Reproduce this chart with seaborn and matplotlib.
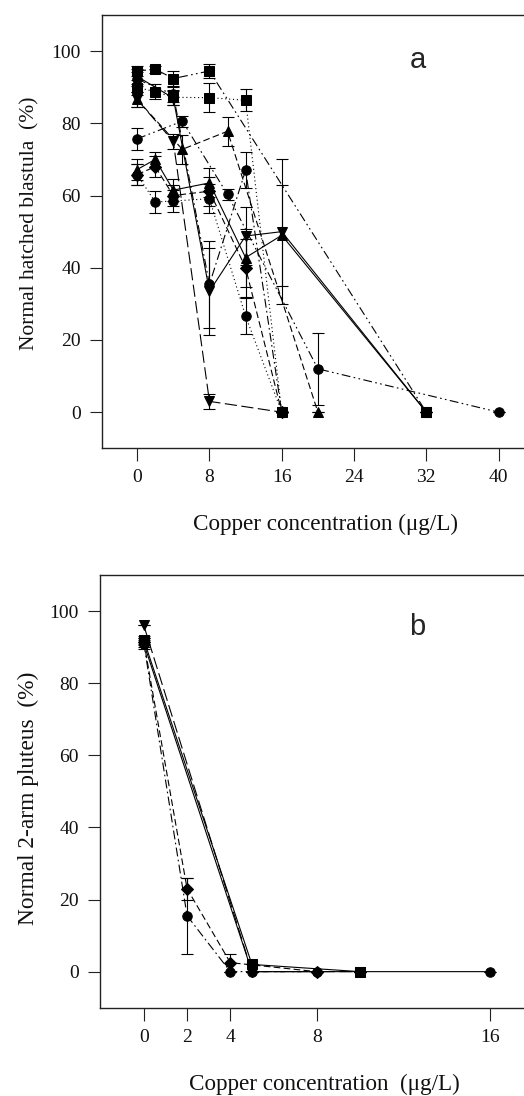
import numpy as np
import pandas as pd
import seaborn as sns
import matplotlib
matplotlib.use("Agg")
import matplotlib.pyplot as plt

# ---- panel a: normal hatched blastula (%) ----
a_x1 = [0, 5, 10, 20, 40]
a_y1 = [75.7, 80.6, 60.3, 12.0, 0]
a_e1 = [3.0, 1.5, 1.5, 10.0, 0]

a_x2 = [0, 5, 10, 20]
a_y2 = [86.6, 72.8, 77.8, 0]
a_e2 = [2.0, 4.0, 4.0, 0]

a_x3 = [0, 2, 4, 8, 12, 16]
a_y3 = [89.9, 88.8, 87.2, 87.1, 86.4, 0]
a_e3 = [2.0, 2.0, 2.0, 4.0, 3.0, 0]

a_x4 = [0, 2, 4, 8, 32]
a_y4 = [94.5, 95.0, 92.4, 94.5, 0]
a_e4 = [1.5, 1.0, 2.0, 2.0, 0]

a_x5 = [0, 4, 8, 16]
a_y5 = [86.6, 75.0, 3.0, 0]
a_e5 = [2.0, 2.0, 2.0, 0]

a_x6 = [0, 4, 8, 12, 16, 32]
a_y6 = [93.0, 87.0, 33.5, 48.8, 50.0, 0]
a_e6 = [2.0, 2.0, 12.0, 8.0, 20.0, 0]

a_x7 = [0, 2, 4, 8, 12, 16, 32]
a_y7 = [67.2, 70.0, 61.5, 63.5, 42.8, 49.0, 0]
a_e7 = [3.0, 2.0, 3.0, 4.0, 8.0, 14.0, 0]

a_x8 = [0, 2, 4, 8, 12, 16]
a_y8 = [65.8, 68.0, 60.0, 61.2, 40.0, 0]
a_e8 = [3.0, 3.0, 3.0, 4.0, 8.0, 0]

a_x9 = [0, 2, 4, 8, 12, 16]
a_y9 = [65.8, 58.2, 58.5, 59.1, 26.6, 0]
a_e9 = [3.0, 3.0, 3.0, 4.0, 5.0, 0]

a_x10 = [0, 4, 8, 12, 16]
a_y10 = [92.2, 88.0, 35.4, 67.0, 0]
a_e10 = [2.0, 2.0, 12.0, 5.0, 0]

# ---- panel b: normal 2-arm pluteus (%) ----
b_x1 = [0, 2, 4, 8]
b_y1 = [91.0, 15.5, 0, 0]
b_e1 = [1.5, 10.5, 0, 0]

b_x2 = [0, 2, 4, 8]
b_y2 = [91.5, 23.0, 2.5, 0]
b_e2 = [1.0, 3.0, 2.5, 0]

b_x3 = [0, 5, 10]
b_y3 = [96.0, 0, 0]
b_e3 = [0, 0, 0]

b_x4 = [0, 5, 10]
b_y4 = [92.0, 2.0, 0]
b_e4 = [1.0, 0, 0]

b_x5 = [0, 5, 10, 16]
b_y5 = [91.0, 0, 0, 0]
b_e5 = [1.0, 0, 0, 0]

a_ticks = [0, 8, 16, 24, 32, 40]
b_ticks = [0, 2, 4, 8, 16]
y_ticks = [0, 20, 40, 60, 80, 100]

DOT = (0, (1, 2.5))
DASH = (0, (6, 3))
LDASH = (0, (11, 4))
DASHDOT = (0, (8, 3, 1.5, 3))
DASHDOTDOT = (0, (8, 3, 1.5, 3, 1.5, 3))
SOLID = "-"

a_series = [
    (a_x1, a_y1, a_e1, "o", DASHDOTDOT),
    (a_x2, a_y2, a_e2, "^", DASH),
    (a_x3, a_y3, a_e3, "s", DOT),
    (a_x4, a_y4, a_e4, "s", DASHDOTDOT),
    (a_x5, a_y5, a_e5, "v", LDASH),
    (a_x6, a_y6, a_e6, "v", SOLID),
    (a_x7, a_y7, a_e7, "^", SOLID),
    (a_x8, a_y8, a_e8, "D", DASH),
    (a_x9, a_y9, a_e9, "o", DOT),
    (a_x10, a_y10, a_e10, "o", DASHDOT),
]
b_series = [
    (b_x1, b_y1, b_e1, "o", DASHDOT),
    (b_x2, b_y2, b_e2, "D", DASH),
    (b_x3, b_y3, b_e3, "v", LDASH),
    (b_x4, b_y4, b_e4, "s", SOLID),
    (b_x5, b_y5, b_e5, "o", SOLID),
]

sns.set_style("ticks")
plt.rcParams["font.family"] = ["Liberation Serif", "DejaVu Serif"]

fig = plt.figure(figsize=(5.24, 10.96), dpi=100)
ax_a = fig.add_axes([101.7 / 524, 1 - 448.3 / 1096, 425 / 524, 433.3 / 1096])
ax_b = fig.add_axes([99.5 / 524, 1 - 1007.7 / 1096, 427 / 524, 432.7 / 1096])


def draw(ax, series):
    for x, y, e, m, ls in series:
        df = pd.DataFrame({"conc": x, "pct": y})
        ax.errorbar(x, y, yerr=e, fmt="none", ecolor="black", elinewidth=0.8,
                    capsize=4.5, capthick=0.8, zorder=2)
        sns.lineplot(data=df, x="conc", y="pct", ax=ax, color="black", marker=m,
                     markersize=6.8 if m != "D" else 5.8, markeredgecolor="black",
                     linewidth=0.8, linestyle=ls, sort=False, errorbar=None,
                     estimator=None, zorder=3)


draw(ax_a, a_series)
draw(ax_b, b_series)

for ax in (ax_a, ax_b):
    ax.set_ylim(-10, 110)
    ax.set_yticks(y_ticks)
    ax.tick_params(direction="out", length=9, width=0.8, labelsize=14, pad=6,
                   color="#222222", labelcolor="#111111")
    for s in ax.spines.values():
        s.set_linewidth(1.0)
        s.set_color("#222222")

ax_a.set_xlim(-3.92, 43.1)
ax_a.set_xticks(a_ticks)
ax_b.set_xlim(-2.05, 17.7)
ax_b.set_xticks(b_ticks)

ax_a.set_xlabel("Copper concentration (\u03bcg/L)", fontsize=16.7, color="#111111")
ax_a.set_ylabel("Normal hatched blastula  (%)", fontsize=15.5, color="#111111")
ax_b.set_xlabel("Copper concentration  (\u03bcg/L)", fontsize=16.7, color="#111111")
ax_b.set_ylabel("Normal 2-arm pluteus  (%)", fontsize=16.8, color="#111111")
ax_a.xaxis.set_label_coords((326 - 101.7) / 425, -(514 - 448.3) / 433.3)
ax_a.yaxis.set_label_coords(-(101.7 - 39) / 425, (448.3 - 223) / 433.3)
ax_b.xaxis.set_label_coords((324 - 99.5) / 427, -(1074 - 1007.7) / 432.7)
ax_b.yaxis.set_label_coords(-(99.5 - 39) / 427, (1007.7 - 798) / 432.7)

ax_a.text(0.744, 0.896, "a", transform=ax_a.transAxes, fontsize=21,
          family=["Liberation Sans", "DejaVu Sans"], ha="center", va="center")
ax_b.text(0.744, 0.88, "b", transform=ax_b.transAxes, fontsize=21,
          family=["Liberation Sans", "DejaVu Sans"], ha="center", va="center")

fig.savefig("out.png", dpi=100)
